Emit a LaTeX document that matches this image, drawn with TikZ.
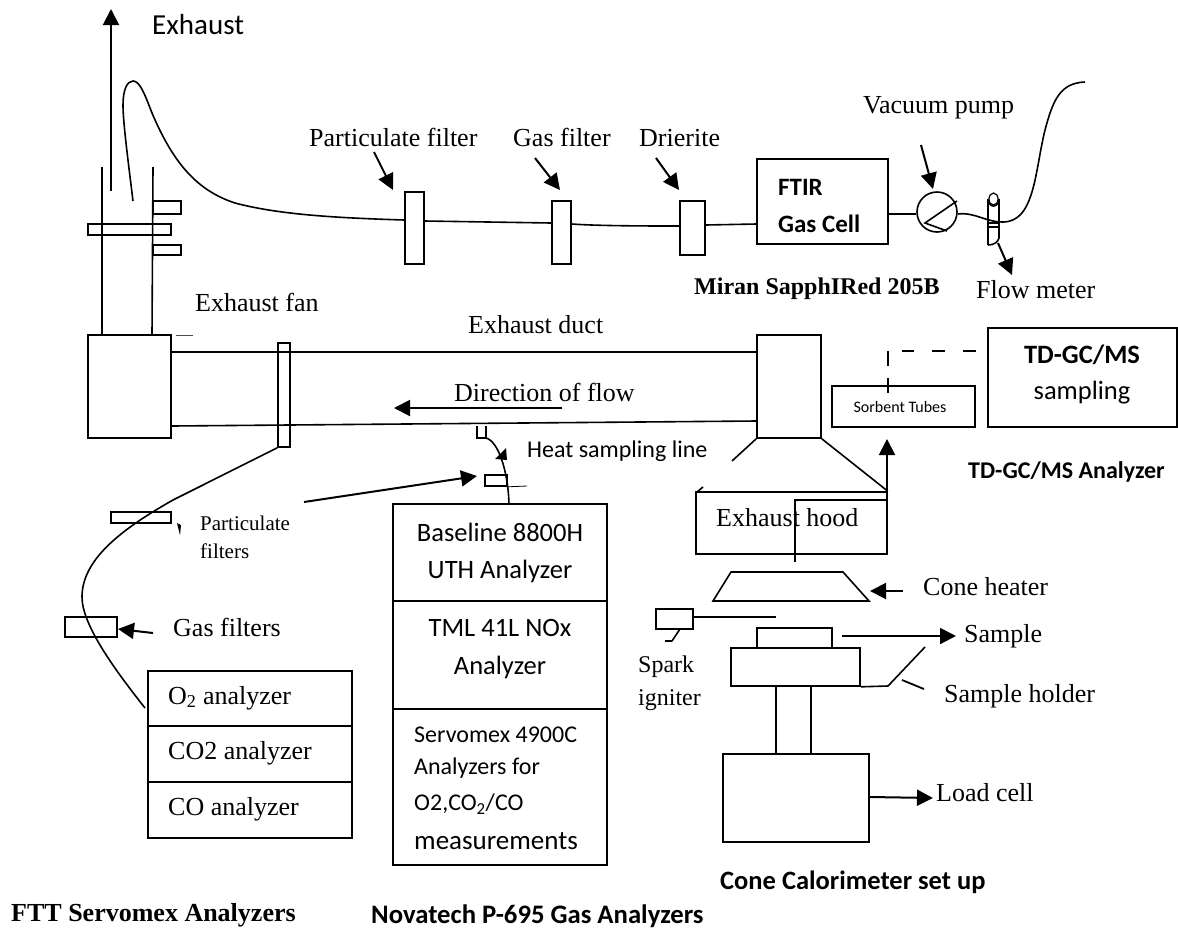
\documentclass[tikz,border=0pt]{standalone}
\usepackage{fontspec}
\setmainfont{Liberation Serif}
\newfontfamily\crl{Carlito}
\usetikzlibrary{arrows.meta,fit,calc,shapes.geometric}
\tikzset{
  x=1pt,y=-1pt,
  ln/.style={line width=1.6pt,black},
  thinln/.style={line width=1.1pt,black},
  boxr/.style={draw,line width=1.6pt,inner sep=0pt,rectangle,fill=none},
  arr/.style={line width=2pt,-{Triangle[length=16pt,width=16pt]}},
  lblt/.style={anchor=west,inner sep=0pt,font=\fontsize{26}{28}\selectfont},
  lblc/.style={anchor=west,inner sep=0pt,font=\crl\fontsize{24}{26}\selectfont},
  lblbt/.style={anchor=west,inner sep=0pt,font=\bfseries\fontsize{24}{26}\selectfont},
  lblbc/.style={anchor=west,inner sep=0pt,font=\crl\bfseries\fontsize{26}{28}\selectfont},
  ctrc/.style={inner sep=0pt,font=\crl\fontsize{26.5}{28}\selectfont},
}
\newcommand{\bx}[5]{\coordinate (#1-nw) at (#2,#3);\coordinate (#1-se) at (#4,#5);\node[boxr,fit=(#1-nw)(#1-se)] (#1) {};}
\begin{document}
\begin{tikzpicture}
\useasboundingbox (0,0) rectangle (1178,930);
% ---- exhaust stack
\coordinate (exS) at (111,191); \coordinate (exE) at (111,9);
\draw[arr] (exS) -- (exE);
\node[lblc,font=\crl\fontsize{29}{31}\selectfont] (lExhaust) at (152,25) {Exhaust};
\draw[ln] (102,167) -- (102,335) (153,167) -- (152,335);
\bx{s1}{153}{201}{181}{214}
\bx{s2}{88}{224}{171}{235}
\bx{s3}{153}{245}{181}{255}
% ---- FTIR line
\bx{pf}{405}{192}{424}{264}
\bx{gf}{552}{201}{571}{264}
\bx{df}{680}{201}{705}{255}
\bx{ftir}{757}{159}{888}{244}
\draw[ln] (133,201) .. controls (128,160) and (123,122) .. (123,105)
  .. controls (123,90) and (127,81) .. (133,81)
  .. controls (140,81) and (145,95) .. (152,113)
  .. controls (172,160) and (195,190) .. (235,203)
  .. controls (280,215) and (340,218) .. (pf.west |- 0,220);
\draw[ln] (pf.east |- 0,221) -- (gf.west |- 0,223);
\draw[ln] (gf.east |- 0,224) .. controls (600,226) and (650,226) .. (df.west |- 0,226);
\draw[ln] (df.east |- 0,225) -- (ftir.west |- 0,224);
\node[lblt] (lPF) at (309,137) {Particulate filter};
\node[lblt] (lGF) at (513,137) {Gas filter};
\node[lblt] (lDr) at (639,138) {Drierite};
\draw[arr] (374,152) -- (393,190);
\draw[arr] (535,158) -- (560,190);
\draw[arr] (656,158) -- (679,190);
\node[lblbc,font=\crl\bfseries\fontsize{25}{27}\selectfont] (lFT) at (778,187) {FTIR};
\node[lblbc,font=\crl\bfseries\fontsize{25}{27}\selectfont] (lGC) at (778,224) {Gas Cell};
\node[lblbt] (lMiran) at (694,289) {Miran SapphIRed 205B};
% ---- pump
\node[circle,draw,line width=1.6pt,minimum size=40pt,inner sep=0pt] (pump) at (937,212) {};
\draw[ln] (ftir.east |- 0,214) -- (pump.west |- 0,214);
\draw[ln] (957,201) -- (925,223) -- (947,231);
\draw[arr] (921,145) -- (933,189);
\node[lblt] (lVP) at (863,108) {Vacuum pump};
% ---- flow meter
\draw[ln] (988,245) -- (988,199) arc[start angle=180,end angle=0,x radius=5.5,y radius=7] -- (999,238) .. controls (998,242) and (994,245) .. (988,245);
\node[ellipse,draw,line width=1.2pt,inner sep=0pt,minimum width=9pt,minimum height=12pt] (fmtop) at (993.5,199) {};
\draw[thinln] (988,223) -- (999,223) (988,227) -- (999,227);
\draw[ln] (pump.east |- 0,214) .. controls (975,212) and (985,222) .. (1003,222)
  .. controls (1035,222) and (1035,170) .. (1045,130)
  .. controls (1053,100) and (1060,83) .. (1085,82);
\draw[arr] (998,243) -- (1012,275);
\node[lblt] (lFM) at (976,290) {Flow meter};
% ---- duct
\bx{fanbox}{88}{335}{171}{438}
\draw[line width=.6pt,black!70] (176,335) -- (193,335);
\bx{fan}{278}{343}{290}{447}
\bx{stackh}{757}{335}{821}{438}
\draw[ln] (fanbox.east |- 0,352) -- (stackh.west |- 0,352);
\draw[ln] (fanbox.east |- 0,426) -- (stackh.west |- 0,421);
\node[lblt] (lEF) at (195,302) {Exhaust fan};
\node[lblt] (lED) at (468,325) {Exhaust duct};
\node[lblt] (lDF) at (454,392) {Direction of flow};
\draw[arr] (562,408) -- (394,408);
% ---- Sorbent / TD-GC/MS
\bx{sorb}{832}{386}{975}{427}
\bx{td}{988}{328}{1177}{427}
\coordinate (dc) at (888,351);
\draw[ln,dash pattern=on 13pt off 18pt] (976,351) -- (902,351);
\draw[ln,dash pattern=on 15pt off 12pt] (dc) -- (888,394);
\node[inner sep=0pt,font=\crl\fontsize{16}{18}\selectfont] (lSorb) at (900,407) {Sorbent Tubes};
\node[inner sep=0pt,font=\crl\bfseries\fontsize{26.5}{28}\selectfont] (lTD) at (1082,355) {TD-GC/MS};
\node[ctrc] (lSa) at (1082,393) {sampling};
\node[lblbc,font=\crl\bfseries\fontsize{24}{26}\selectfont] (lTDA) at (968,472) {TD-GC/MS Analyzer};
% ---- hood
\bx{hood}{696}{492}{887}{554}
\draw[ln] (stackh.south west) -- (732,461);
\draw[ln] (stackh.south east) -- (hood.north east);
\draw[ln] (697,492) -- (703,487);
\node[lblt] (lEH) at (716,518) {Exhaust hood};
\draw[line width=2pt] (795,562) -- (795,500) -- (887,500);
\draw[arr] (887,500) -- (887,439);
% ---- cone heater
\coordinate (ch1) at (731,572); \coordinate (ch2) at (843,572);
\coordinate (ch3) at (869,601); \coordinate (ch4) at (713,601);
\draw[ln] (ch1) -- (ch2) -- (ch3) -- (ch4) -- cycle;
\draw[arr] (903,591) -- (870,591);
\node[lblt] (lCH) at (923,587) {Cone heater};
% ---- igniter
\bx{spark}{656}{609}{693}{629}
\draw[ln] (spark.east |- 0,617) -- (776,617);
\draw[ln] (680,629) -- (672,641) (672,641) -- (665,641);
\node[lblt,font=\fontsize{24}{26}\selectfont] (lSp) at (638,667) {Spark};
\node[lblt,font=\fontsize{24}{26}\selectfont] (lIg) at (638,700) {igniter};
% ---- sample stack
\bx{sample}{757}{628}{832}{648}
\bx{holder}{731}{648}{860}{686}
\bx{column}{776}{686}{811}{754}
\bx{load}{723}{754}{869}{842}
\draw[arr] (842,636) -- (956,636);
\node[lblt] (lSm) at (964,636) {Sample};
\draw[ln] (holder.south east) -- (888,686) -- (925,647);
\draw[line width=1.8pt] (902,680) -- (924,689);
\node[lblt] (lSH) at (944,696) {Sample holder};
\draw[arr] (load.east |- 0,797) -- (933,798);
\node[lblt] (lLC) at (936,793) {Load cell};
\node[lblbc,font=\crl\bfseries\fontsize{26.5}{28}\selectfont] (lCC) at (720,882) {Cone Calorimeter set up};
% ---- Novatech column
\bx{bl}{393}{504}{607}{601}
\bx{tml}{393}{601}{607}{709}
\bx{serv}{393}{709}{607}{865}
\node[ctrc] (t1) at (500,532) {Baseline 8800H};
\node[ctrc] (t2) at (500,571) {UTH Analyzer};
\node[ctrc] (t3) at (500,628) {TML 41L NOx};
\node[ctrc] (t4) at (500,667) {Analyzer};
\node[lblc] (t5) at (414,735) {Servomex 4900C};
\node[lblc] (t6) at (414,768) {Analyzers for};
\node[lblc] (t7) at (414,804) {O2,CO\textsubscript{2}/CO};
\node[lblc,font=\crl\fontsize{27}{29}\selectfont] (t8) at (414,841) {measurements};
\node[lblbc,font=\crl\bfseries\fontsize{26.7}{29}\selectfont] (lNova) at (371,916) {Novatech P-695 Gas Analyzers};
% ---- heat sampling line
\coordinate (u1) at (477,426); \coordinate (u2) at (486,426);
\draw[thinln] (u1) -- (477,438) -- (486,438) -- (u2);
\draw[ln] (486,438) .. controls (498,441) and (508,470) .. (509,504);
\fill (506,448) -- (507,460) -- (495,459) -- cycle;
\bx{hf}{485}{475}{507}{486}
\draw[line width=.8pt] (hf.south east) -- (527,486);
\node[lblc] (lHS) at (527,451) {Heat sampling line};
\coordinate (pfa) at (304,502);
\draw[arr] (pfa) -- (477,476);
% ---- left gas line
\bx{pfl}{111}{512}{171}{523}
\bx{gfl}{65}{617}{117}{637}
\bx{o2}{148}{671}{352}{726}
\bx{co2}{148}{726}{352}{782}
\bx{co}{148}{782}{352}{838}
\draw[ln] (fan.south west) -- (173,500) .. controls (120,530) and (82,560) .. (82,597)
  .. controls (82,625) and (115,670) .. (145,708);
\fill (177,523) -- (181,525) -- (180,535) -- cycle;
\node[lblt,font=\fontsize{21}{23}\selectfont] (lP1) at (200,523) {Particulate};
\node[lblt,font=\fontsize{21}{23}\selectfont] (lP2) at (200,551) {filters};
\draw[arr] (153,633) -- (118,629);
\node[lblt] (lGFs) at (173,627) {Gas filters};
\node[lblt] (lO2) at (168,698) {O\textsubscript{2} analyzer};
\node[lblt] (lCO2) at (168,753) {CO2 analyzer};
\node[lblt] (lCO) at (168,809) {CO analyzer};
\node[lblbt,font=\bfseries\fontsize{26}{28}\selectfont] (lFTT) at (11,915) {FTT Servomex Analyzers};
\end{tikzpicture}
\end{document}
